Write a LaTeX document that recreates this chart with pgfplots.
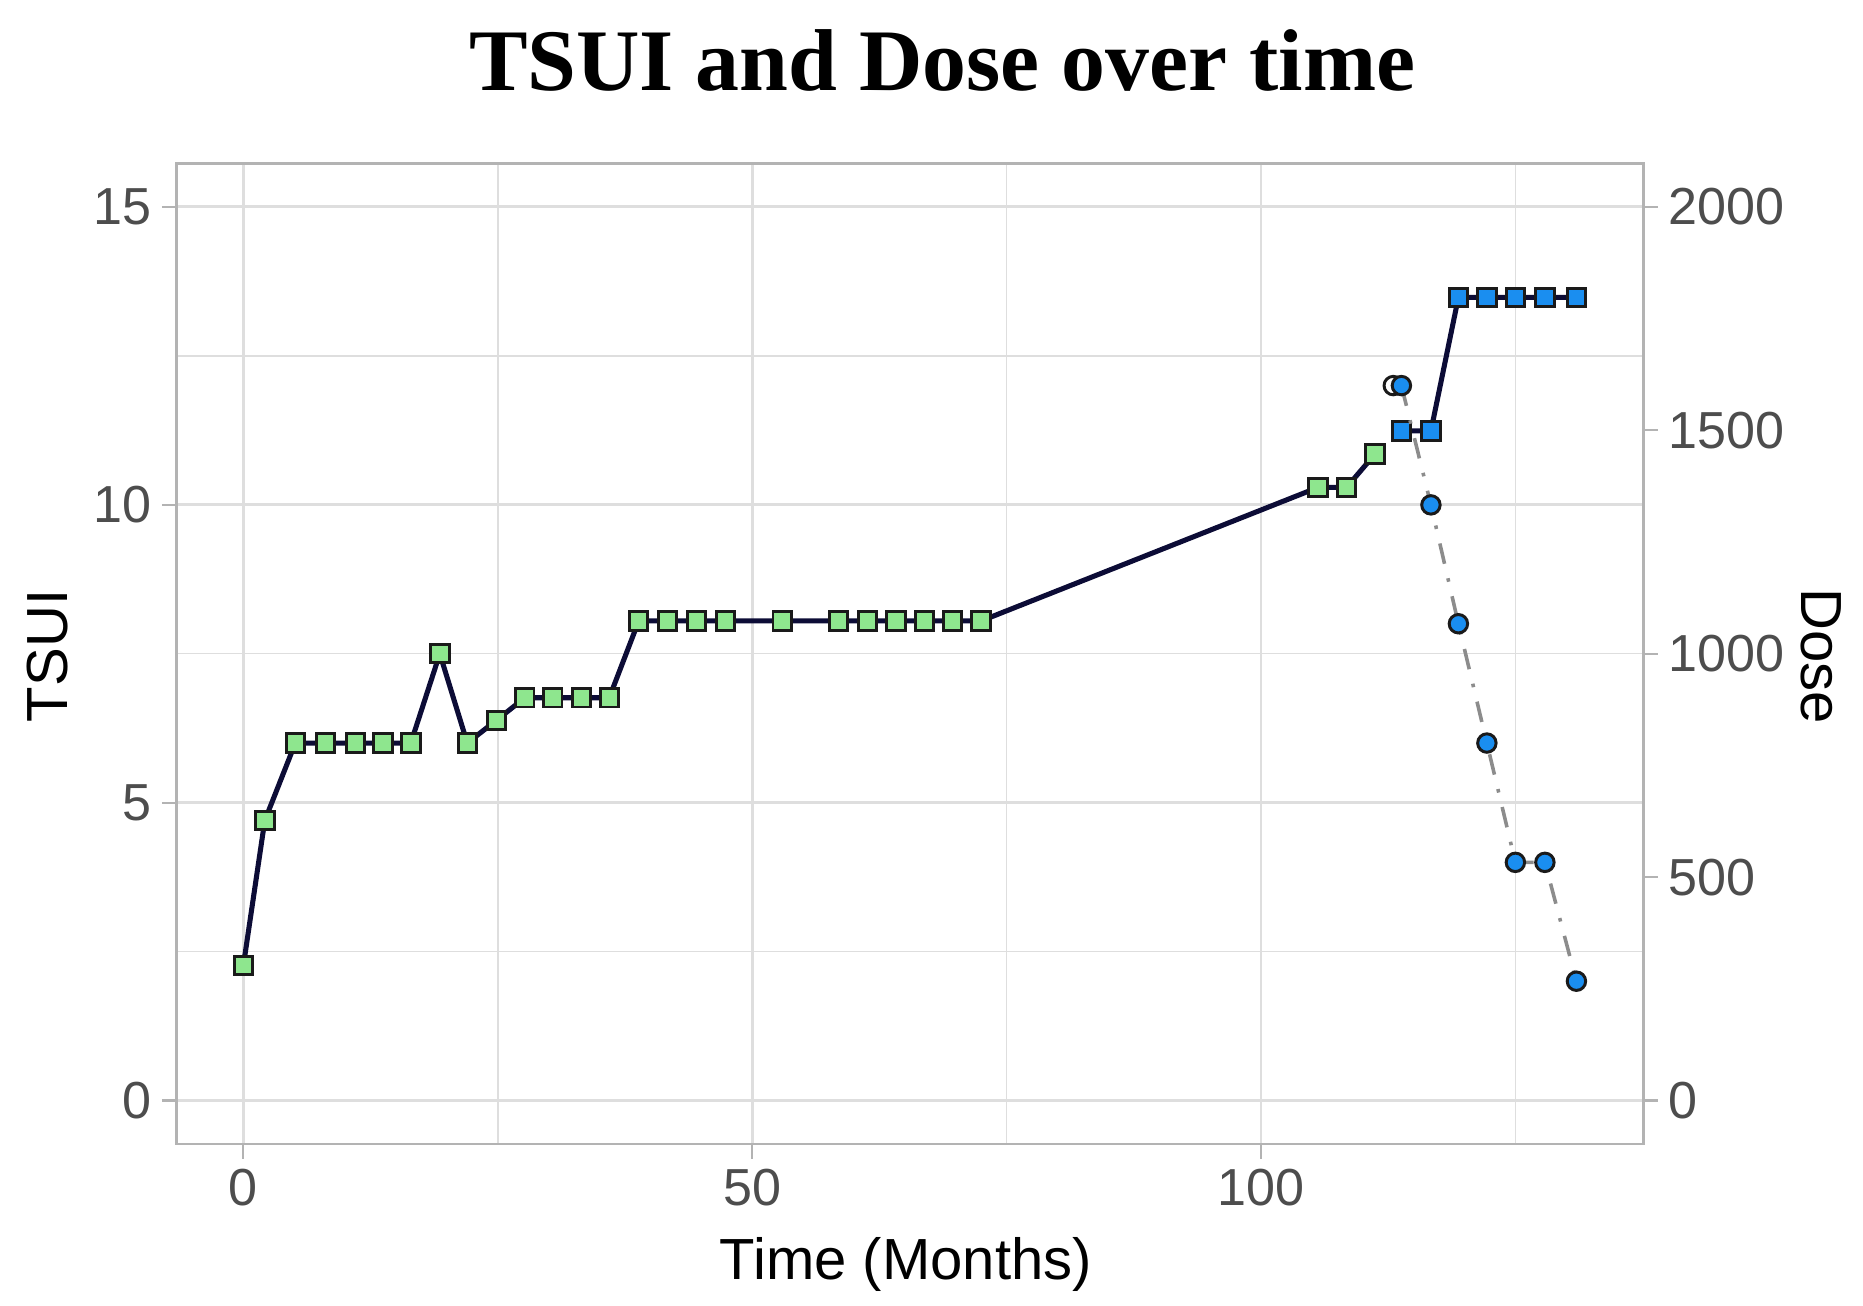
\documentclass[border=0pt]{standalone}
\usepackage{fontspec}
\setmainfont{Liberation Sans}
\newfontfamily\titlefont{Liberation Serif}
\usepackage{pgfplots}
\usepackage{pgfplotstable}
\pgfplotsset{compat=1.18}
\definecolor{gridc}{HTML}{DEDEDE}
\definecolor{borderc}{HTML}{B3B3B3}
\definecolor{tickc}{HTML}{4D4D4D}
\definecolor{navyl}{HTML}{0C0C36}
\definecolor{greenf}{HTML}{8EE68E}
\definecolor{bluef}{HTML}{1A8EF0}
\definecolor{dashc}{HTML}{8C8C8C}
\definecolor{edgec}{HTML}{1A1A1A}

\pgfplotstableread{
t tsui
0 2.27
2.1 4.70
5.1 6.00
8.05 6.00
11.0 6.00
13.7 6.00
16.45 6.00
19.3 7.50
22.0 6.00
24.85 6.38
27.65 6.76
30.4 6.76
33.2 6.76
35.95 6.76
38.85 8.05
41.7 8.05
44.55 8.05
47.4 8.05
52.95 8.05
58.5 8.05
61.35 8.05
64.15 8.05
66.95 8.05
69.7 8.05
72.5 8.05
105.6 10.29
108.4 10.29
111.2 10.85
113.8 11.24
116.7 11.24
119.4 13.48
122.2 13.48
125.0 13.48
127.9 13.48
131.0 13.48
}\tsuidata

\pgfplotstableread{
t dose
113.8 1600
116.7 1333
119.4 1067
122.2 800
125.0 533
127.9 533
131.0 267
}\dosedata

\begin{document}
\begin{tikzpicture}
\useasboundingbox (-59.4pt,-54.4pt) rectangle (566.6pt,384.4pt);
\pgfplotsset{base/.style={
  scale only axis, width=492.7pt, height=329.3pt,
  at={(0pt,0pt)}, anchor=south west,
  xmin=-6.55, xmax=137.55,
  axis line style={draw=borderc, line width=1pt},
  tick style={draw=borderc, line width=0.7pt},
  major tick length=5pt, tick align=outside,
  ticklabel style={font=\fontsize{17.5}{20}\selectfont, text=tickc},
  /pgf/number format/assume math mode=true,
  /pgf/number format/1000 sep={},
}}
\begin{axis}[base,
  ymin=-0.73, ymax=15.72,
  xtick={0,50,100}, ytick={0,5,10,15},
  minor xtick={25,75,125}, minor ytick={2.5,7.5,12.5},
  minor tick length=0pt,
  grid=both,
  major grid style={draw=gridc, line width=1pt},
  minor grid style={draw=gridc, line width=0.5pt},
  xtick pos=bottom, ytick pos=left]
\addplot[only marks, mark=square*, mark size=3.1pt,
  mark options={fill=greenf, draw=edgec, line width=1pt},
  skip coords between index={28}{35}] table[x=t,y=tsui]{\tsuidata};
\addplot[only marks, mark=square*, mark size=3.1pt,
  mark options={fill=bluef, draw=edgec, line width=1pt},
  skip coords between index={0}{28}] table[x=t,y=tsui]{\tsuidata};
\addplot[navyl, line width=1.7pt, no marks,
  skip coords between index={28}{35}] table[x=t,y=tsui]{\tsuidata};
\addplot[navyl, line width=1.7pt, no marks,
  skip coords between index={0}{28}] table[x=t,y=tsui]{\tsuidata};
\end{axis}
\begin{axis}[base,
  ymin=-97.33, ymax=2096,
  hide x axis,
  ytick={0,500,1000,1500,2000},
  ytick pos=right, yticklabel pos=right]
\addplot[only marks, mark=*, mark size=3.1pt,
  mark options={fill=white, draw=edgec, line width=1pt}] coordinates {(113.0,1600)};
\addplot[only marks, mark=*, mark size=3.1pt,
  mark options={fill=bluef, draw=edgec, line width=1pt}] table[x=t,y=dose]{\dosedata};
\addplot[dashc, line width=1.2pt, no marks,
  dash pattern=on 7pt off 5pt on 1.2pt off 5pt] table[x=t,y=dose]{\dosedata};
\end{axis}
\node[font=\titlefont\bfseries\fontsize{29.5}{36}\selectfont, anchor=base] at (257.2pt,354pt) {TSUI and Dose over time};
\node[font=\fontsize{19.5}{22}\selectfont, anchor=base] at (245pt,-45.4pt) {Time (Months)};
\node[font=\fontsize{19.5}{22}\selectfont, rotate=90] at (-43.4pt,164pt) {TSUI};
\node[font=\fontsize{19.5}{22}\selectfont, rotate=-90] at (552.5pt,164pt) {Dose};
\end{tikzpicture}
\end{document}
